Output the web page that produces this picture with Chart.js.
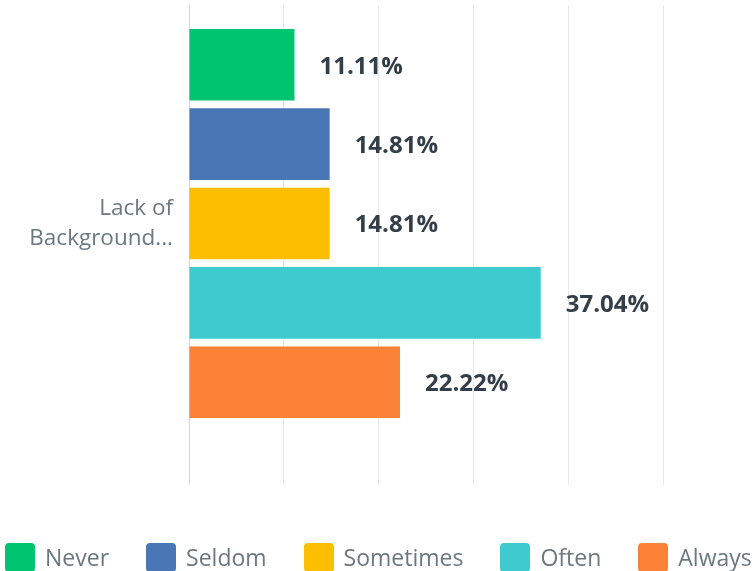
<!DOCTYPE html>
<html>
<head>
<meta charset="utf-8">
<script src="https://cdn.jsdelivr.net/npm/chart.js@4/dist/chart.umd.min.js"></script>
<style>
  html, body { margin: 0; padding: 0; background: #fff; }
  #wrap { position: relative; width: 755px; height: 571px; }
  #legend {
    position: absolute; left: 5px; top: 541px;
    display: flex; align-items: center; white-space: nowrap;
    font-family: "Open Sans", sans-serif; font-size: 23px; color: #6b787f;
  }
  .item { display: flex; align-items: center; margin-right: 37px; }
  .item:last-child { margin-right: 0; }
  .swatch { width: 30px; height: 29px; border-radius: 4px; margin-right: 10px; flex: none; }
</style>
</head>
<body>
<div id="wrap">
  <canvas id="chart" width="755" height="571"></canvas>
  <div id="legend"></div>
</div>
<script>
// Question answered and the answer options
const categories = [['Lack of', 'Background...']];
const seriesNames = ['Never', 'Seldom', 'Sometimes', 'Often', 'Always'];
const seriesValues = [11.11, 14.81, 14.81, 37.04, 22.22];
const seriesColors = ['#00c46f', '#4b76b5', '#fcbe00', '#3ecbce', '#fc8238'];
const gridSteps = [0, 10, 20, 30, 40, 50];

const datasets = seriesNames.map((name, i) => ({
  label: name,
  data: [seriesValues[i]],
  backgroundColor: seriesColors[i],
  borderWidth: 0,
  categoryPercentage: 0.908,
  barPercentage: 0.903
}));

// Percentage printed just past the end of each bar
const valueLabels = {
  id: 'valueLabels',
  afterDatasetsDraw(chart) {
    const ctx = chart.ctx;
    ctx.save();
    ctx.font = 'bold 24px "Open Sans", sans-serif';
    ctx.fillStyle = '#333e48';
    ctx.textAlign = 'left';
    ctx.textBaseline = 'middle';
    chart.data.datasets.forEach((ds, i) => {
      const meta = chart.getDatasetMeta(i);
      meta.data.forEach((bar, j) => {
        ctx.fillText(ds.data[j].toFixed(2) + '%', bar.x + 25, bar.y + 2);
      });
    });
    ctx.restore();
  }
};

const chart = new Chart(document.getElementById('chart'), {
  type: 'bar',
  data: { labels: categories, datasets },
  options: {
    indexAxis: 'y',
    responsive: false,
    animation: false,
    layout: { padding: { top: 5, right: 0, bottom: 86, left: 0 } },
    plugins: { legend: { display: false }, tooltip: { enabled: false } },
    scales: {
      x: {
        min: 0,
        max: 59.6,
        afterBuildTicks(scale) {
          scale.ticks = gridSteps.map(v => ({ value: v }));
        },
        ticks: { display: false },
        border: { display: false },
        grid: {
          color: c => (c.tick && c.tick.value === 0 ? '#d6d6d6' : '#e8e8e8'),
          lineWidth: 1,
          drawTicks: true,
          tickLength: 43
        }
      },
      y: {
        afterFit(scale) {
          scale.width = 189;
          // the label sits mid-band, so no extra room is needed above or below
          scale.paddingTop = 0;
          scale.paddingBottom = 0;
        },
        grid: { display: false, drawTicks: false },
        border: { display: false },
        ticks: {
          color: '#6b787f',
          padding: 16,
          font: { family: '"Open Sans", sans-serif', size: 22.5, lineHeight: 1.35 }
        }
      }
    }
  },
  plugins: [valueLabels]
});

// Legend row under the chart, built from the datasets
const legend = document.getElementById('legend');
chart.data.datasets.forEach(ds => {
  const item = document.createElement('div');
  item.className = 'item';
  const sw = document.createElement('span');
  sw.className = 'swatch';
  sw.style.background = ds.backgroundColor;
  const txt = document.createElement('span');
  txt.textContent = ds.label;
  item.appendChild(sw);
  item.appendChild(txt);
  legend.appendChild(item);
});
</script>
</body>
</html>
